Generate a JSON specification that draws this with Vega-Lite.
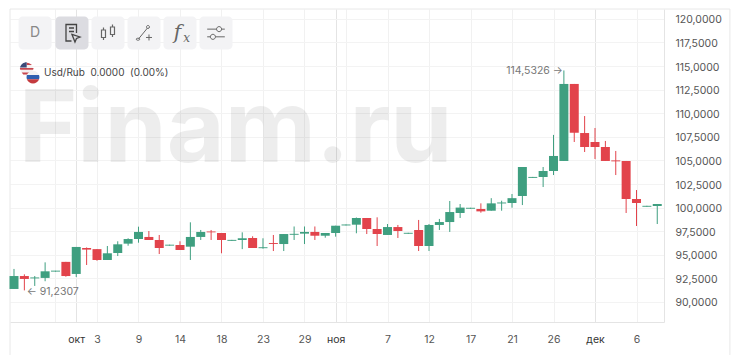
{"$schema":"https://vega.github.io/schema/vega-lite/v6.json","width":654,"height":313,"autosize":{"type":"none"},"padding":{"left":10,"top":9,"right":71,"bottom":33},"background":"#ffffff","view":{"stroke":null},"config":{"font":"Inter"},
"datasets":{"candles":[
{"i":0,"o":91.38,"h":93.5,"l":91.38,"c":92.75},{"i":1,"o":92.75,"h":92.93,"l":91.23,"c":92.44},{"i":2,"o":92.5,"h":92.75,"l":91.7,"c":92.6},{"i":3,"o":92.55,"h":94.2,"l":92.2,"c":93.25},{"i":4,"o":93.22,"h":93.3,"l":93.22,"c":93.32},{"i":5,"o":94.25,"h":94.25,"l":92.68,"c":92.75},{"i":6,"o":92.97,"h":95.83,"l":92.65,"c":95.83},{"i":7,"o":95.72,"h":95.78,"l":93.92,"c":95.55},{"i":8,"o":95.6,"h":95.6,"l":94.37,"c":94.45},{"i":9,"o":94.45,"h":95.93,"l":94.45,"c":95.16},{"i":10,"o":95.19,"h":96.43,"l":94.87,"c":96.11},{"i":11,"o":96.18,"h":96.75,"l":95.96,"c":96.67},{"i":12,"o":96.67,"h":97.98,"l":96.28,"c":97.42},{"i":13,"o":96.89,"h":97.52,"l":96.57,"c":96.57},{"i":14,"o":96.57,"h":97.1,"l":95.08,"c":95.72},{"i":15,"o":95.97,"h":96.07,"l":95.97,"c":96.07},{"i":16,"o":96.04,"h":96.43,"l":95.51,"c":95.51},{"i":17,"o":95.86,"h":98.44,"l":94.45,"c":96.89},{"i":18,"o":96.89,"h":97.63,"l":96.57,"c":97.42},{"i":19,"o":97.47,"h":97.63,"l":96.57,"c":97.38},{"i":20,"o":97.31,"h":97.31,"l":95.16,"c":96.57},{"i":21,"o":96.48,"h":96.58,"l":96.48,"c":96.58},
{"i":22,"o":96.57,"h":97.38,"l":95.6,"c":96.75},{"i":23,"o":96.78,"h":96.96,"l":95.72,"c":95.72},{"i":24,"o":95.7,"h":96.75,"l":95.65,"c":95.8},{"i":25,"o":96.25,"h":97.1,"l":95.4,"c":96.15},{"i":26,"o":96.14,"h":97.2,"l":95.4,"c":97.2},{"i":27,"o":97.12,"h":98.0,"l":96.57,"c":97.22},{"i":28,"o":97.24,"h":98.0,"l":96.14,"c":97.42},{"i":29,"o":97.42,"h":98.0,"l":96.57,"c":97.02},{"i":30,"o":97.02,"h":97.31,"l":96.81,"c":97.31},{"i":31,"o":97.31,"h":98.08,"l":96.92,"c":98.08},{"i":32,"o":98.11,"h":98.21,"l":98.11,"c":98.21},{"i":33,"o":98.19,"h":98.95,"l":97.28,"c":98.9},{"i":34,"o":98.9,"h":98.9,"l":97.2,"c":97.73},{"i":35,"o":97.73,"h":98.97,"l":95.93,"c":97.2},{"i":36,"o":97.1,"h":98.26,"l":97.1,"c":97.94},{"i":37,"o":97.94,"h":98.16,"l":96.78,"c":97.52},{"i":38,"o":97.23,"h":97.33,"l":97.23,"c":97.33},{"i":39,"o":97.63,"h":98.69,"l":95.4,"c":95.93},{"i":40,"o":95.93,"h":98.26,"l":95.4,"c":98.16},{"i":41,"o":98.16,"h":98.8,"l":97.63,"c":98.47},{"i":42,"o":98.47,"h":100.7,"l":97.42,"c":99.53},{"i":43,"o":99.43,"h":100.38,"l":98.9,"c":100.0},
{"i":44,"o":99.88,"h":99.98,"l":99.88,"c":99.98},{"i":45,"o":99.85,"h":100.45,"l":99.46,"c":99.6},{"i":46,"o":99.67,"h":101.0,"l":99.67,"c":100.45},{"i":47,"o":100.44,"h":100.73,"l":99.67,"c":100.54},{"i":48,"o":100.49,"h":101.44,"l":99.99,"c":101.0},{"i":49,"o":101.23,"h":104.3,"l":100.27,"c":104.3},{"i":50,"o":103.15,"h":103.25,"l":103.15,"c":103.25},{"i":51,"o":103.24,"h":104.3,"l":102.18,"c":103.88},{"i":52,"o":103.88,"h":107.7,"l":103.45,"c":105.47},{"i":53,"o":104.94,"h":114.53,"l":104.94,"c":113.1},{"i":54,"o":113.1,"h":113.1,"l":106.95,"c":107.93},{"i":55,"o":107.9,"h":109.7,"l":105.89,"c":106.42},{"i":56,"o":106.95,"h":108.43,"l":105.15,"c":106.42},{"i":57,"o":106.42,"h":107.06,"l":104.94,"c":104.94},{"i":58,"o":105.0,"h":106.0,"l":103.45,"c":104.9},{"i":59,"o":104.94,"h":104.94,"l":99.43,"c":100.91},{"i":60,"o":100.91,"h":101.86,"l":98.05,"c":100.49},{"i":61,"o":100.09,"h":100.19,"l":100.09,"c":100.19},{"i":62,"o":100.17,"h":100.38,"l":98.26,"c":100.38}
],"buttons":[{"i":2.03,"kind":"plain"},{"i":5.59,"kind":"active"},{"i":9.06,"kind":"plain"},{"i":12.53,"kind":"plain"},{"i":16.0,"kind":"plain"},{"i":19.47,"kind":"plain"}]},
"data":{"name":"candles"},
"encoding":{"x":{"field":"i","type":"quantitative","scale":{"domain":[-0.385,62.65],"nice":false,"zero":false,"padding":0},"title":null,"axis":{"values":[4,6,8,12,16,20,24,28,31,32,36,40,44,48,52,56,60],"labelExpr":"({4:'',6:'окт',8:'3',12:'9',16:'14',20:'18',24:'23',28:'29',31:'ноя',32:'',36:'7',40:'12',44:'17',48:'21',52:'26',56:'дек',60:'6'})[datum.value]","labelFont":"Inter","labelFontSize":10.5,"labelColor":{"condition":{"test":"datum.value==6||datum.value==31||datum.value==56","value":"#333333"},"value":"#555555"},"labelPadding":12,"ticks":false,"grid":true,"gridColor":{"condition":{"test":"datum.value==6||datum.value==31||datum.value==56","value":"#e4e4e4"},"value":"#f1f1f1"},"gridWidth":1,"domainColor":"#e4e4e4","labelOverlap":false,"labelFlush":false}},
"y":{"type":"quantitative","scale":{"domain":[87.88,121.04],"nice":false,"zero":false,"padding":0},"title":null,"axis":{"orient":"right","values":[90,92.5,95,97.5,100,102.5,105,107.5,110,112.5,115,117.5,120],"labelExpr":"replace(format(datum.value,'.4f'),'.',',')","labelFont":"Inter","labelFontSize":10.5,"labelColor":"#555555","labelPadding":11,"labelOffset":1,"ticks":false,"grid":true,"gridColor":"#f3f3f3","domainColor":"#e4e4e4","labelOverlap":false,"labelFlush":false}}},
"layer":[
{"data":{"values":[{"i":-0.385,"p":121.04,"x2":69}]},"mark":{"type":"rule","color":"#e8e8e8","strokeWidth":1},"encoding":{"x":{"field":"i","type":"quantitative"},"x2":{"field":"x2"},"y":{"field":"p","type":"quantitative"}}},
{"data":{"values":[{"i":-0.385,"p":121.04,"p2":84.39},{"i":69,"p":121.04,"p2":84.39}]},"mark":{"type":"rule","color":"#e8e8e8","strokeWidth":1},"encoding":{"x":{"field":"i","type":"quantitative"},"y":{"field":"p","type":"quantitative"},"y2":{"field":"p2"}}},
{"data":{"values":[{"i":0.45,"p":104.8,"t":"Finam.ru"}]},"mark":{"type":"text","font":"Inter","fontWeight":700,"fontSize":100,"align":"left","baseline":"alphabetic","color":"#000000","opacity":0.065},"encoding":{"x":{"field":"i","type":"quantitative"},"y":{"field":"p","type":"quantitative"},"text":{"field":"t"}}},
{"mark":{"type":"rule","strokeWidth":1},"encoding":{"y":{"field":"l","type":"quantitative"},"y2":{"field":"h"},"color":{"condition":{"test":"datum.c>=datum.o","value":"#3f9f80"},"value":"#e2434b"}}},
{"mark":{"type":"bar","size":9},"encoding":{"y":{"field":"o","type":"quantitative"},"y2":{"field":"c"},"color":{"condition":{"test":"datum.c>=datum.o","value":"#3f9f80"},"value":"#e2434b"}}},
{"data":{"values":[{"i":52.9,"p":114.47,"t":"114,5326 →"}]},"mark":{"type":"text","font":"Inter","fontSize":10.5,"align":"right","baseline":"middle","color":"#777777"},"encoding":{"x":{"field":"i","type":"quantitative"},"y":{"field":"p","type":"quantitative"},"text":{"field":"t"}}},
{"data":{"values":[{"i":1.23,"p":91.06,"t":"← 91,2307"}]},"mark":{"type":"text","font":"Inter","fontSize":10.5,"align":"left","baseline":"middle","color":"#777777"},"encoding":{"x":{"field":"i","type":"quantitative"},"y":{"field":"p","type":"quantitative"},"text":{"field":"t"}}},
{"data":{"name":"buttons"},"mark":{"type":"point","shape":"M-0.75,-1 H0.75 A0.25,0.25 0 0 1 1,-0.75 V0.75 A0.25,0.25 0 0 1 0.75,1 H-0.75 A0.25,0.25 0 0 1 -1,0.75 V-0.75 A0.25,0.25 0 0 1 -0.75,-1Z","filled":true,"size":1089,"opacity":1},"encoding":{"x":{"field":"i","type":"quantitative"},"y":{"datum":118.5,"type":"quantitative"},"color":{"condition":{"test":"datum.kind=='active'","value":"#dcdce1"},"value":"#f3f3f5"}}},
{"data":{"values":[{"i":2.03,"t":"D"}]},"mark":{"type":"text","font":"Inter","fontSize":14,"align":"center","baseline":"middle","color":"#888888"},"encoding":{"x":{"field":"i","type":"quantitative"},"y":{"datum":118.5,"type":"quantitative"},"text":{"field":"t"}}},
{"data":{"values":[{"i":5.59}]},"mark":{"type":"point","shape":"M0.45,0.0 V-0.85 H-0.6 V0.8 H-0.05 M-0.3,-0.5 H0.2 M-0.3,-0.15 H0.2 M0.0,0.15 L0.8,0.4 L0.45,0.55 L0.3,0.9 Z","filled":false,"stroke":"#444444","strokeWidth":1.3,"size":400,"opacity":1},"encoding":{"x":{"field":"i","type":"quantitative"},"y":{"datum":118.5,"type":"quantitative"}}},
{"data":{"values":[{"i":9.06}]},"mark":{"type":"point","shape":"M-0.65,-0.3 H-0.25 V0.45 H-0.65Z M-0.45,-0.3 V-0.55 M-0.45,0.45 V0.7 M0.25,-0.6 H0.65 V0.15 H0.25Z M0.45,-0.6 V-0.85 M0.45,0.15 V0.4","filled":false,"stroke":"#666666","strokeWidth":1.2,"size":400,"opacity":1},"encoding":{"x":{"field":"i","type":"quantitative"},"y":{"datum":118.5,"type":"quantitative"}}},
{"data":{"values":[{"i":12.53}]},"mark":{"type":"point","shape":"M-0.55,0.6 L0.35,-0.5 M-0.6,0.55 A0.1,0.1 0 1 0 -0.6,0.7 A0.1,0.1 0 1 0 -0.6,0.55 M0.4,-0.75 A0.15,0.15 0 1 0 0.4,-0.45 A0.15,0.15 0 1 0 0.4,-0.75 M0.2,0.45 H0.8 M0.5,0.15 V0.75","filled":false,"stroke":"#666666","strokeWidth":1,"size":400,"opacity":1},"encoding":{"x":{"field":"i","type":"quantitative"},"y":{"datum":118.5,"type":"quantitative"}}},
{"data":{"values":[{"i":15.75,"t":"f"}]},"mark":{"type":"text","font":"DejaVu Serif","fontStyle":"italic","fontSize":20,"align":"center","baseline":"middle","color":"#666666"},"encoding":{"x":{"field":"i","type":"quantitative"},"y":{"datum":118.5,"type":"quantitative"},"text":{"field":"t"}}},
{"data":{"values":[{"i":16.65,"t":"x"}]},"mark":{"type":"text","font":"DejaVu Serif","fontStyle":"italic","fontSize":12,"align":"center","baseline":"middle","color":"#666666"},"encoding":{"x":{"field":"i","type":"quantitative"},"y":{"datum":118.0,"type":"quantitative"},"text":{"field":"t"}}},
{"data":{"values":[{"i":19.47}]},"mark":{"type":"point","shape":"M-0.8,-0.35 H0.05 M0.5,-0.35 H0.8 M-0.8,0.35 H-0.5 M-0.05,0.35 H0.8 M0.28,-0.58 A0.23,0.23 0 1 0 0.28,-0.12 A0.23,0.23 0 1 0 0.28,-0.58 M-0.28,0.12 A0.23,0.23 0 1 0 -0.28,0.58 A0.23,0.23 0 1 0 -0.28,0.12","filled":false,"stroke":"#666666","strokeWidth":1,"size":484,"opacity":1},"encoding":{"x":{"field":"i","type":"quantitative"},"y":{"datum":118.5,"type":"quantitative"}}},
{"data":{"values":[{"i":1.225,"p":114.65}]},"mark":{"type":"point","shape":"circle","filled":true,"color":"#f4f0f0","size":154,"opacity":1},"encoding":{"x":{"field":"i","type":"quantitative"},"y":{"field":"p","type":"quantitative"}}},
{"data":{"values":[{"i":1.225,"p":114.65}]},"mark":{"type":"point","shape":"M-0.98,-0.2 H0.98 L0.92,0.05 H-0.92Z M-0.7,0.45 H0.7 L0.5,0.75 H-0.5Z M0,-0.95 A0.95,0.95 0 0 1 0.75,-0.6 H0Z","filled":true,"color":"#c8474f","size":196,"opacity":1},"encoding":{"x":{"field":"i","type":"quantitative"},"y":{"field":"p","type":"quantitative"}}},
{"data":{"values":[{"i":1.225,"p":114.65}]},"mark":{"type":"point","shape":"M0,-1 V-0.25 H-0.97 A1,1 0 0 1 0,-1Z","filled":true,"color":"#3b4a78","size":196,"opacity":1},"encoding":{"x":{"field":"i","type":"quantitative"},"y":{"field":"p","type":"quantitative"}}},
{"data":{"values":[{"i":1.83,"p":113.83}]},"mark":{"type":"point","shape":"M-0.94,-0.33 A1,1 0 0 1 0.94,-0.33Z","filled":true,"color":"#f2f2f2","size":169,"opacity":1},"encoding":{"x":{"field":"i","type":"quantitative"},"y":{"field":"p","type":"quantitative"}}},
{"data":{"values":[{"i":1.83,"p":113.83}]},"mark":{"type":"point","shape":"M-0.94,-0.33 H0.94 A1,1 0 0 1 0.94,0.33 H-0.94 A1,1 0 0 1 -0.94,-0.33Z","filled":true,"color":"#2f5fb0","size":169,"opacity":1},"encoding":{"x":{"field":"i","type":"quantitative"},"y":{"field":"p","type":"quantitative"}}},
{"data":{"values":[{"i":1.83,"p":113.83}]},"mark":{"type":"point","shape":"M-0.94,0.33 H0.94 A1,1 0 0 1 -0.94,0.33Z","filled":true,"color":"#c43a3e","size":169,"opacity":1},"encoding":{"x":{"field":"i","type":"quantitative"},"y":{"field":"p","type":"quantitative"}}},
{"data":{"values":[{"i":2.89,"p":114.26,"t":"Usd/Rub\u00a0\u00a00.0000\u00a0\u00a0(0.00%)"}]},"mark":{"type":"text","font":"Inter","fontSize":10,"align":"left","baseline":"middle","color":"#444444"},"encoding":{"x":{"field":"i","type":"quantitative"},"y":{"field":"p","type":"quantitative"},"text":{"field":"t"}}}
]}
